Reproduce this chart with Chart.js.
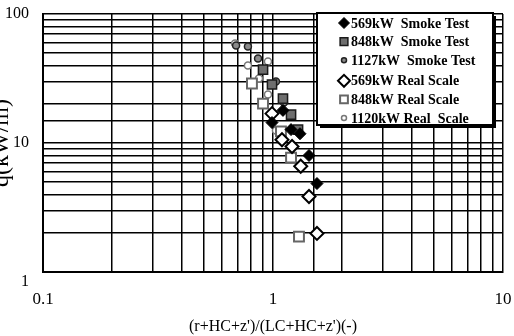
<!DOCTYPE html>
<html>
<head>
<meta charset="utf-8">
<script src="https://cdn.jsdelivr.net/npm/chart.js@4.4.1/dist/chart.umd.min.js"></script>
<style>
  html, body { margin: 0; padding: 0; background: #fff; }
  #wrap { width: 514px; height: 336px; }
</style>
</head>
<body>
<div id="wrap"><canvas id="scatter-chart"></canvas></div>
<script>
var seriesNames = ["569kW  Smoke Test", "848kW  Smoke Test", "1127kW  Smoke Test",
                   "569kW Real Scale", "848kW Real Scale", "1120kW Real  Scale"];

// x = (r+Hc+z')/(Lc+Hc+z'), y = q (kW/m)
var smoke569X = [0.99, 1.105, 1.198, 1.31, 1.434, 1.553];
var smoke569Y = [14.4, 17.9, 12.7, 11.8, 8.0, 4.85];
var smoke848X = [0.905, 0.99, 1.105, 1.198, 1.285];
var smoke848Y = [37.1, 28.4, 22.1, 16.6, 12.7];
var smoke1127X = [0.691, 0.778, 0.861, 1.03, 1.116];
var smoke1127Y = [57, 56, 45.2, 30, 20.6];
var real569X = [0.99, 1.094, 1.21, 1.32, 1.434, 1.553];
var real569Y = [16.9, 10.6, 9.4, 6.6, 3.85, 1.99];
var real848X = [0.81, 0.905, 1.083, 1.198, 1.297];
var real848Y = [28.9, 20.2, 12.3, 7.7, 1.88];
var real1120X = [0.684, 0.778, 0.869, 0.951, 0.951, 1.03];
var real1120Y = [59, 39.9, 31.6, 42.8, 23.8, 12.5];

var xTickLabels = [0.1, 1, 10];
var yTickLabels = [1, 10, 100];

var xTitle = "(r+HC+z')/(LC+HC+z')(-)";
var yTitle = "q(kW/m)";

function pairs(xs, ys) {
    return xs.map(function (x, i) { return { x: x, y: ys[i] }; });
}

var seriesData = [
    pairs(smoke569X, smoke569Y),
    pairs(smoke848X, smoke848Y),
    pairs(smoke1127X, smoke1127Y),
    pairs(real569X, real569Y),
    pairs(real848X, real848Y),
    pairs(real1120X, real1120Y)
];

// marker looks, one per series
var markers = [
    { pointStyle: "rectRot", radius: 6,   fill: "#000",    edge: "#000",    width: 1,   legendRadius: 5.5 },
    { pointStyle: "rect",    radius: 6.5, fill: "#6e6e6e", edge: "#1a1a1a", width: 1.5, legendRadius: 5.5 },
    { pointStyle: "circle",  radius: 3.5, fill: "#8a8a8a", edge: "#222",    width: 1.5, legendRadius: 2.5 },
    { pointStyle: "rectRot", radius: 6.5, fill: "#fff",    edge: "#000",    width: 2,   legendRadius: 6 },
    { pointStyle: "rect",    radius: 7,   fill: "#fff",    edge: "#666",    width: 2,   legendRadius: 5.5 },
    { pointStyle: "circle",  radius: 3.5, fill: "#fff",    edge: "#777",    width: 1.5, legendRadius: 2.5 }
];

var serif = "'Liberation Serif', 'Times New Roman', serif";

var datasets = seriesData.map(function (d, i) {
    var m = markers[i];
    return {
        label: seriesNames[i],
        data: d,
        pointStyle: m.pointStyle,
        pointRadius: m.radius,
        pointBackgroundColor: m.fill,
        pointBorderColor: m.edge,
        pointBorderWidth: m.width,
        showLine: false
    };
});

// white page + legend box drawn inside the plot, top right, with a shadow
var insideLegend = {
    id: "insideLegend",
    beforeDraw: function (chart) {
        var ctx = chart.ctx;
        ctx.save();
        ctx.fillStyle = "#fff";
        ctx.fillRect(0, 0, chart.width, chart.height);
        ctx.restore();
    },
    afterDraw: function (chart) {
        var ctx = chart.ctx, area = chart.chartArea;
        var boxW = 176, boxH = 112;
        var left = area.right - 10 - boxW, top = area.top - 1;
        ctx.save();
        ctx.fillStyle = "#000";
        ctx.fillRect(left + 3, top + 3, boxW, boxH);
        ctx.fillStyle = "#fff";
        ctx.fillRect(left, top, boxW, boxH);
        ctx.lineWidth = 2;
        ctx.strokeStyle = "#000";
        ctx.strokeRect(left, top, boxW, boxH);

        ctx.font = "bold 14px " + serif;
        ctx.textAlign = "left";
        ctx.textBaseline = "middle";
        chart.data.datasets.forEach(function (ds, i) {
            var m = markers[i];
            var y = top + 10 + i * 18.6 + (i >= 3 ? 2 : 0);
            ctx.fillStyle = m.fill;
            ctx.strokeStyle = m.edge;
            ctx.lineWidth = m.width;
            Chart.helpers.drawPoint(ctx, {
                pointStyle: m.pointStyle, radius: m.legendRadius, rotation: 0, borderWidth: m.width
            }, left + 27, y);
            ctx.fillStyle = "#000";
            ctx.fillText(ds.label, left + 34, y + 1);
        });
        ctx.restore();
    }
};

function decadeLabel(list) {
    return function (value) {
        for (var i = 0; i < list.length; i++) {
            if (Math.abs(value - list[i]) < 1e-9) {
                return list[i] === 1 && list === yTickLabels ? ["", String(list[i])] : String(list[i]);
            }
        }
        return "";
    };
}

var config = {
    type: "scatter",
    data: { datasets: datasets },
    options: {
        responsive: true,
        maintainAspectRatio: false,
        animation: false,
        layout: { padding: { top: 14, right: 11, left: 0, bottom: 0 } },
        plugins: {
            legend: { display: false },
            tooltip: { enabled: false }
        },
        scales: {
            x: {
                type: "logarithmic",
                min: 0.1,
                max: 10,
                afterFit: function (scale) {
                    scale.height = 64;
                    scale.paddingLeft = 0;
                    scale.paddingRight = 0;
                },
                grid: { color: "#000", lineWidth: 1.5, drawTicks: false },
                border: { color: "#000", width: 2 },
                ticks: {
                    autoSkip: false,
                    maxRotation: 0,
                    padding: 17,
                    color: "#000",
                    font: { family: serif, size: 17 },
                    callback: decadeLabel(xTickLabels)
                },
                title: {
                    display: true,
                    text: xTitle,
                    color: "#000",
                    font: { family: serif, size: 16 },
                    padding: 0
                }
            },
            y: {
                type: "logarithmic",
                min: 1,
                max: 100,
                afterFit: function (scale) {
                    scale.width = 43;
                    scale.paddingTop = 0;
                    scale.paddingBottom = 0;
                },
                grid: { color: "#000", lineWidth: 1.5, drawTicks: false },
                border: { color: "#000", width: 2 },
                ticks: {
                    autoSkip: false,
                    padding: 14,
                    color: "#000",
                    font: { family: serif, size: 16 },
                    callback: decadeLabel(yTickLabels)
                },
                title: {
                    display: true,
                    text: yTitle,
                    color: "#000",
                    font: { family: serif, size: 24, lineHeight: 1 },
                    padding: { top: -10, bottom: 0 }
                }
            }
        }
    },
    plugins: [insideLegend]
};

var scatterChart = new Chart(document.getElementById("scatter-chart"), config);
</script>
</body>
</html>
